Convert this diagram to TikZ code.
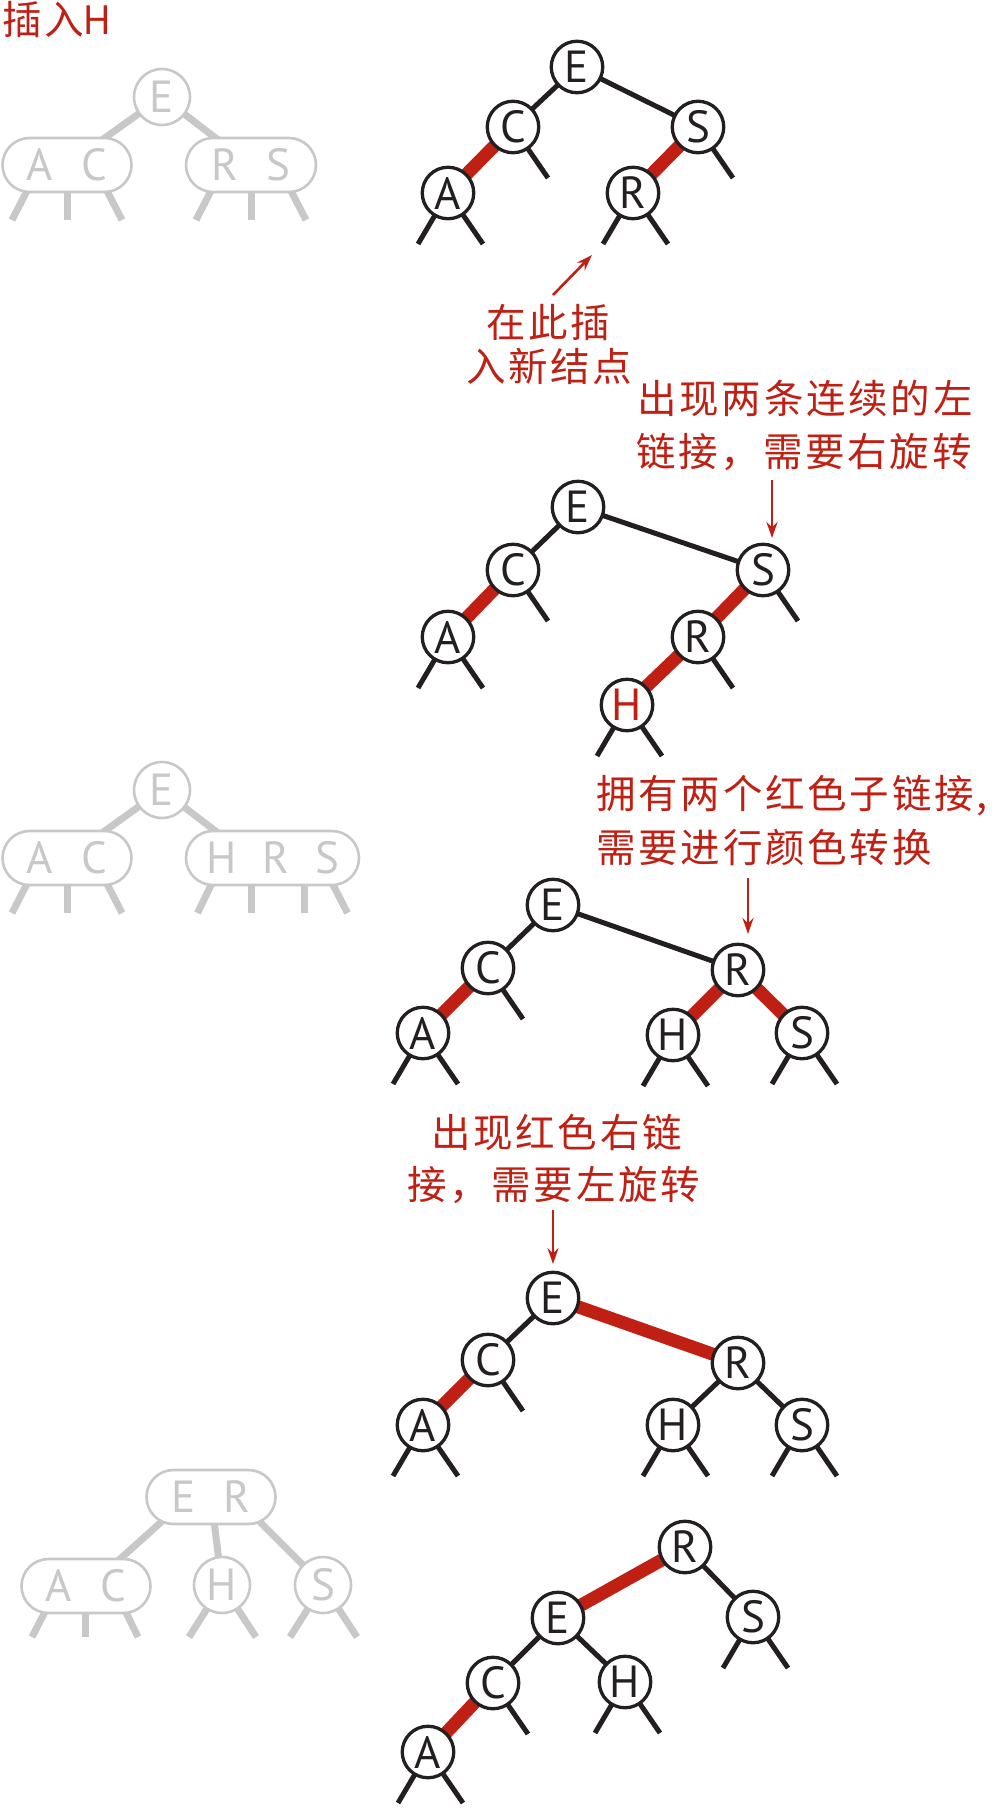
\documentclass[tikz,border=0pt]{standalone}
\usepackage{fontspec}
\setmainfont{PT Sans}
\newfontfamily\cjk[LetterSpace=7]{Noto Sans CJK SC}
\usetikzlibrary{arrows.meta,shapes.misc,backgrounds,calc}
\definecolor{hot}{RGB}{192,32,20}
\definecolor{ghost}{RGB}{200,200,200}
\definecolor{ink}{RGB}{35,31,32}

\tikzset{
  x=1pt,y=-1pt,
  nd/.style={circle,draw=ink,fill=white,line width=3.3pt,minimum size=51.5pt,
    inner sep=0pt,text=ink,font=\fontsize{45}{45}\selectfont},
  blk/.style={line width=5pt,ink},
  rlk/.style={line width=13pt,hot},
  stub/.style={line width=5pt,ink},
  gnode/.style={circle,draw=ghost,fill=white,line width=2.6pt,minimum size=56pt,
    inner sep=0pt,text=ghost,font=\fontsize{45}{45}\selectfont},
  gbox/.style={rounded rectangle,draw=ghost,fill=white,line width=2.6pt,
    minimum height=54pt,inner sep=0pt,text=ghost,font=\fontsize{45}{45}\selectfont},
  glink/.style={line width=7pt,ghost},
  note/.style={text=hot,font=\cjk\fontsize{39.5}{39.5}\selectfont,inner sep=0pt,anchor=west},
  arr/.style={hot,line width=2.6pt,-{Stealth[length=16pt,width=11pt]}},
}
% stubs (null links) hanging below a black node
\newcommand\lstub[1]{\draw[stub] (#1.center) -- ++(-30,51);}
\newcommand\rstub[1]{\draw[stub] (#1.center) -- ++(35,51);}

\begin{document}
\begin{tikzpicture}
\useasboundingbox (0,0) rectangle (1000,1808);

% ---------- title ----------
\node[note] (title) at (2,20) {插入{\fontspec{PT Sans}\fontsize{41}{41}\selectfont H}};

% ---------- 2-3 tree, before insertion ----------
\node[gnode] (g1E) at (162,97) {E};
\node[gbox,minimum width=129pt] (g1L) at (67,165) {A\hspace{28pt}C};
\node[gbox,minimum width=130pt] (g1R) at (251,165) {R\hspace{28pt}S};
\begin{pgfonlayer}{background}
  \draw[glink] (g1E.center) -- (g1L.center);
  \draw[glink] (g1E.center) -- (g1R.center);
  \foreach \b in {g1L,g1R}{
    \draw[glink] ($(\b.center)+(-37,20)$) -- ++(-18,35);
    \draw[glink] ($(\b.center)+(0,20)$) -- ++(0,35);
    \draw[glink] ($(\b.center)+(37,20)$) -- ++(18,35);
  }
\end{pgfonlayer}

% ---------- red-black tree 1 ----------
\node[nd] (a1E) at (577,67) {E};
\node[nd] (a1C) at (513,127) {C};
\node[nd] (a1S) at (698,127) {S};
\node[nd] (a1A) at (448,193) {A};
\node[nd] (a1R) at (633,193) {R};
\begin{pgfonlayer}{background}
  \draw[blk] (a1E.center) -- (a1C.center);
  \draw[blk] (a1E.center) -- (a1S.center);
  \draw[rlk] (a1C.center) -- (a1A.center);
  \draw[rlk] (a1S.center) -- (a1R.center);
  \lstub{a1A}\rstub{a1A}\rstub{a1C}\rstub{a1S}\lstub{a1R}\rstub{a1R}
\end{pgfonlayer}

\node[note] (n1a) at (486,323) {在此插};
\node[note] (n1b) at (466,366) {入新结点};
\coordinate (n1tail) at (553,295);
\coordinate (n1tip) at (592,255);
\draw[arr] (n1tail) -- (n1tip);

\node[note] (n2a) at (637,398) {出现两条连续的左};
\node[note] (n2b) at (636,452) {链接，需要右旋转};

% ---------- red-black tree 2 ----------
\node[nd] (b2E) at (578,507) {E};
\node[nd] (b2C) at (513,570) {C};
\node[nd] (b2S) at (763,570) {S};
\node[nd] (b2A) at (448,637) {A};
\node[nd] (b2R) at (698,637) {R};
\node[nd,text=hot] (b2H) at (627,705) {H};
\begin{pgfonlayer}{background}
  \draw[blk] (b2E.center) -- (b2C.center);
  \draw[blk] (b2E.center) -- (b2S.center);
  \draw[rlk] (b2C.center) -- (b2A.center);
  \draw[rlk] (b2S.center) -- (b2R.center);
  \draw[rlk] (b2R.center) -- (b2H.center);
  \lstub{b2A}\rstub{b2A}\rstub{b2C}\rstub{b2S}\rstub{b2R}\lstub{b2H}\rstub{b2H}
\end{pgfonlayer}
\coordinate (n2tail) at (772,480);
\coordinate (n2tip) at (772,538);
\draw[arr] (n2tail) -- (n2tip);

% ---------- 2-3 tree with a 4-node ----------
\node[gnode] (g2E) at (162,790) {E};
\node[gbox,minimum width=129pt] (g2L) at (67,858) {A\hspace{28pt}C};
\node[gbox,minimum width=173pt] (g2R) at (272.5,858) {H\hspace{26pt}R\hspace{26pt}S};
\begin{pgfonlayer}{background}
  \draw[glink] (g2E.center) -- (g2L.center);
  \draw[glink] (g2E.center) -- ($(g2R.center)+(-22,0)$);
  \draw[glink] ($(g2L.center)+(-37,20)$) -- ++(-18,35);
  \draw[glink] ($(g2L.center)+(0,20)$) -- ++(0,35);
  \draw[glink] ($(g2L.center)+(37,20)$) -- ++(18,35);
  \draw[glink] ($(g2R.center)+(-58,20)$) -- ++(-17,35);
  \draw[glink] ($(g2R.center)+(-21,20)$) -- ++(0,35);
  \draw[glink] ($(g2R.center)+(32,20)$) -- ++(0,35);
  \draw[glink] ($(g2R.center)+(57,20)$) -- ++(18,35);
\end{pgfonlayer}

\node[note] (n3a) at (596,796) {拥有两个红色子链接,};
\node[note] (n3b) at (596,847) {需要进行颜色转换};

% ---------- red-black tree 3 ----------
\node[nd] (c3E) at (553,905) {E};
\node[nd] (c3C) at (488,968) {C};
\node[nd] (c3A) at (423,1033) {A};
\node[nd] (c3R) at (738,970) {R};
\node[nd] (c3H) at (673,1035) {H};
\node[nd] (c3S) at (802,1033) {S};
\begin{pgfonlayer}{background}
  \draw[blk] (c3E.center) -- (c3C.center);
  \draw[blk] (c3E.center) -- (c3R.center);
  \draw[rlk] (c3C.center) -- (c3A.center);
  \draw[rlk] (c3R.center) -- (c3H.center);
  \draw[rlk] (c3R.center) -- (c3S.center);
  \lstub{c3A}\rstub{c3A}\rstub{c3C}\lstub{c3H}\rstub{c3H}\lstub{c3S}\rstub{c3S}
\end{pgfonlayer}
\coordinate (n3tail) at (748,878);
\coordinate (n3tip) at (748,934);
\draw[arr] (n3tail) -- (n3tip);

\node[note] (n4a) at (431,1132) {出现红色右链};
\node[note] (n4b) at (407,1185) {接，需要左旋转};

% ---------- red-black tree 4 ----------
\node[nd] (d4E) at (553,1298) {E};
\node[nd] (d4C) at (488,1360) {C};
\node[nd] (d4A) at (423,1425) {A};
\node[nd] (d4R) at (738,1363) {R};
\node[nd] (d4H) at (673,1425) {H};
\node[nd] (d4S) at (802,1425) {S};
\begin{pgfonlayer}{background}
  \draw[blk] (d4E.center) -- (d4C.center);
  \draw[rlk] (d4E.center) -- (d4R.center);
  \draw[rlk] (d4C.center) -- (d4A.center);
  \draw[blk] (d4R.center) -- (d4H.center);
  \draw[blk] (d4R.center) -- (d4S.center);
  \lstub{d4A}\rstub{d4A}\rstub{d4C}\lstub{d4H}\rstub{d4H}\lstub{d4S}\rstub{d4S}
\end{pgfonlayer}
\coordinate (n4tail) at (553,1210);
\coordinate (n4tip) at (553,1264);
\draw[arr] (n4tail) -- (n4tip);

% ---------- 2-3 tree after insertion ----------
\node[gbox,minimum width=129pt] (g3T) at (211,1497) {E\hspace{28pt}R};
\node[gbox,minimum width=129pt] (g3L) at (86,1586) {A\hspace{28pt}C};
\node[gnode] (g3H) at (222,1585) {H};
\node[gnode] (g3S) at (323,1585) {S};
\begin{pgfonlayer}{background}
  \draw[glink] ($(g3T.center)+(-22,0)$) -- ($(g3L.center)+(4,0)$);
  \draw[glink] (g3T.center) -- (g3H.center);
  \draw[glink] ($(g3T.center)+(24,0)$) -- (g3S.center);
  \draw[glink] ($(g3L.center)+(-38,20)$) -- ++(-16,31);
  \draw[glink] ($(g3L.center)+(-1,20)$) -- ++(0,31);
  \draw[glink] ($(g3L.center)+(37,20)$) -- ++(15,31);
  \foreach \b in {g3H,g3S}{
    \draw[glink] (\b.center) -- ++(-33,52);
    \draw[glink] (\b.center) -- ++(34,52);
  }
\end{pgfonlayer}

% ---------- red-black tree 5 ----------
\node[nd] (e5R) at (685,1547) {R};
\node[nd] (e5E) at (558,1618) {E};
\node[nd] (e5S) at (753,1617) {S};
\node[nd] (e5C) at (493,1683) {C};
\node[nd] (e5H) at (625,1682) {H};
\node[nd] (e5A) at (428,1752) {A};
\begin{pgfonlayer}{background}
  \draw[rlk] (e5R.center) -- (e5E.center);
  \draw[blk] (e5R.center) -- (e5S.center);
  \draw[blk] (e5E.center) -- (e5C.center);
  \draw[blk] (e5E.center) -- (e5H.center);
  \draw[rlk] (e5C.center) -- (e5A.center);
  \lstub{e5S}\rstub{e5S}\lstub{e5H}\rstub{e5H}\rstub{e5C}\lstub{e5A}\rstub{e5A}
\end{pgfonlayer}
\end{tikzpicture}
\end{document}
